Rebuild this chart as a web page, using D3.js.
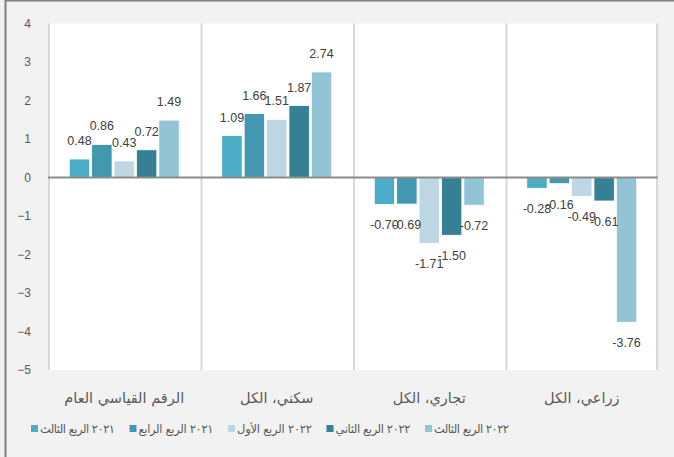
<!DOCTYPE html>
<html>
<head>
<meta charset="utf-8">
<script src="https://cdn.jsdelivr.net/npm/d3@7.9.0/dist/d3.min.js"></script>
<style>
  body { margin: 0; background: #f2f2f2; }
  svg { display: block; font-family: "Liberation Sans", "DejaVu Sans", sans-serif; }
</style>
</head>
<body>
<div id="chart"></div>
<script>
const categories = ["الرقم القياسي العام", "سكني، الكل", "تجاري، الكل", "زراعي، الكل"];
const seriesNames = ["٢٠٢١ الربع الثالث", "٢٠٢١ الربع الرابع", "٢٠٢٢ الربع الأول", "٢٠٢٢ الربع الثاني", "٢٠٢٢ الربع الثالث"];
const q3_2021 = [0.48, 1.09, -0.70, -0.28];
const q4_2021 = [0.86, 1.66, -0.69, -0.16];
const q1_2022 = [0.43, 1.51, -1.71, -0.49];
const q2_2022 = [0.72, 1.87, -1.50, -0.61];
const q3_2022 = [1.49, 2.74, -0.72, -3.76];
const yTicks = [4, 3, 2, 1, 0, -1, -2, -3, -4, -5];
const colors = ["#4bacc6", "#4397b0", "#bdd8e4", "#367f94", "#93c4d5"];

const seriesValues = [q3_2021, q4_2021, q1_2022, q2_2022, q3_2022];

const width = 674;
const height = 457;
const plot = { left: 48, right: 658, top: 23.5, bottom: 370 };

const svg = d3.select("#chart")
  .append("svg")
  .attr("width", width)
  .attr("height", height);

svg.append("rect")
  .attr("width", width).attr("height", height)
  .attr("fill", "#f2f2f2");

// outer frame (left and top edges visible)
svg.append("line")
  .attr("x1", 5.5).attr("x2", 5.5).attr("y1", 0).attr("y2", height)
  .attr("stroke", "#7f7f7f").attr("stroke-width", 2);
svg.append("line")
  .attr("x1", 5).attr("x2", width).attr("y1", 0.5).attr("y2", 0.5)
  .attr("stroke", "#7f7f7f").attr("stroke-width", 2);

svg.append("rect")
  .attr("x", plot.left).attr("y", plot.top)
  .attr("width", plot.right - plot.left)
  .attr("height", plot.bottom - plot.top)
  .attr("fill", "#ffffff");

const x0 = d3.scaleBand()
  .domain(categories)
  .range([plot.left, plot.right]);

const x1 = d3.scaleBand()
  .domain(d3.range(seriesNames.length))
  .range([0, x0.bandwidth()])
  .paddingOuter(0.95)
  .paddingInner(0.09);

const y = d3.scaleLinear()
  .domain([-5, 4])
  .range([plot.bottom, plot.top]);

// category separators
svg.append("g")
  .selectAll("line")
  .data(categories.concat([null]))
  .join("line")
  .attr("x1", (d, i) => i < categories.length ? x0(d) + 1 : plot.right - 1)
  .attr("x2", (d, i) => i < categories.length ? x0(d) + 1 : plot.right - 1)
  .attr("y1", plot.top)
  .attr("y2", plot.bottom)
  .attr("stroke", "#d9d9d9")
  .attr("stroke-width", 2);

// y axis labels
svg.append("g")
  .attr("transform", `translate(34,0)`)
  .call(d3.axisLeft(y).tickValues(yTicks).tickSize(0).tickFormat(d3.format("d")))
  .call(g => g.select(".domain").remove())
  .call(g => g.selectAll("text")
    .attr("fill", "#595959")
    .attr("font-size", 12)
    .attr("font-family", "Liberation Sans, sans-serif"));

const groups = svg.append("g")
  .selectAll("g")
  .data(categories)
  .join("g")
  .attr("transform", d => `translate(${x0(d)},0)`);

groups.selectAll("rect")
  .data((c, ci) => seriesValues.map((vals, si) => ({ si, v: vals[ci] })))
  .join("rect")
  .attr("x", d => x1(d.si))
  .attr("width", x1.bandwidth())
  .attr("y", d => y(Math.max(0, d.v)))
  .attr("height", d => Math.abs(y(d.v) - y(0)))
  .attr("fill", d => colors[d.si])
  .attr("stroke", "#ffffff")
  .attr("stroke-width", 0.8);

groups.selectAll("text")
  .data((c, ci) => seriesValues.map((vals, si) => ({ si, v: vals[ci] })))
  .join("text")
  .attr("x", d => x1(d.si) + x1.bandwidth() / 2)
  .attr("y", d => d.v >= 0 ? y(d.v) - 14 : y(d.v) + 25)
  .attr("text-anchor", "middle")
  .attr("font-size", 12.5)
  .attr("fill", "#404040")
  .text(d => d.v.toFixed(2));

// zero line
svg.append("line")
  .attr("x1", plot.left).attr("x2", plot.right)
  .attr("y1", y(0)).attr("y2", y(0))
  .attr("stroke", "#8c8c8c")
  .attr("stroke-width", 2);

// category labels
svg.append("g")
  .selectAll("text")
  .data(categories)
  .join("text")
  .attr("x", d => x0(d) + x0.bandwidth() / 2)
  .attr("y", 403)
  .attr("text-anchor", "middle")
  .attr("direction", "rtl")
  .attr("font-family", "DejaVu Sans, sans-serif")
  .attr("font-size", 14.5)
  .attr("fill", "#595959")
  .text(d => d);

// legend
const legendX = d3.scalePoint()
  .domain(d3.range(seriesNames.length))
  .range([31, 425]);

const legend = svg.append("g")
  .selectAll("g")
  .data(seriesNames)
  .join("g")
  .attr("transform", (d, i) => `translate(${legendX(i)},426)`);

legend.append("rect")
  .attr("width", 7).attr("height", 7)
  .attr("y", -1)
  .attr("fill", (d, i) => colors[i]);

legend.append("text")
  .attr("x", 84)
  .attr("y", 7)
  .attr("direction", "rtl")
  .attr("text-anchor", "start")
  .attr("font-family", "DejaVu Sans, sans-serif")
  .attr("font-size", 11.5)
  .attr("textLength", 75)
  .attr("lengthAdjust", "spacing")
  .attr("fill", "#595959")
  .text(d => d);
</script>
</body>
</html>
